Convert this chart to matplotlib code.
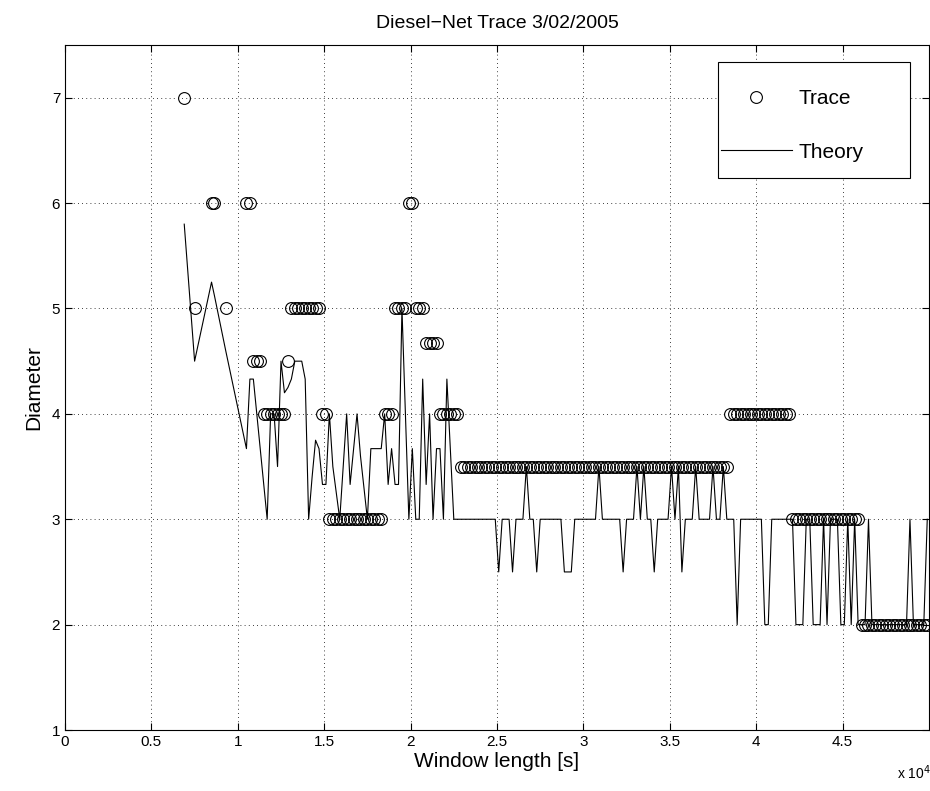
import numpy as np
import matplotlib
matplotlib.use("Agg")
from matplotlib import pyplot as plt
from matplotlib.patches import Rectangle

plt.rcParams['font.family'] = ['Liberation Sans', 'DejaVu Sans']

# Primeros puntos (ventanas cortas, espaciado irregular)
x_early = [6900, 7500, 8480, 8650, 9300]
trace_early = [7, 5, 6, 6, 5]
theory_early = [5.8, 4.5, 5.25, 5.12, 4.6]

# Resto de ventanas: cada 200 s desde 10500 s
x_grid = np.arange(10500, 50000, 200)

trace_grid = [
    6, 6, 4.5, 4.5, 4.5, 4, 4, 4, 4, 4,
    4, 4, 4.5, 5, 5, 5, 5, 5, 5, 5,
    5, 5, 4, 4, 3, 3, 3, 3, 3, 3,
    3, 3, 3, 3, 3, 3, 3, 3, 3, 3,
    4, 4, 4, 5, 5, 5, 5, 6, 6, 5,
    5, 5, 4.67, 4.67, 4.67, 4.67, 4, 4, 4, 4,
    4, 4, 3.5, 3.5, 3.5, 3.5, 3.5, 3.5, 3.5, 3.5,
    3.5, 3.5, 3.5, 3.5, 3.5, 3.5, 3.5, 3.5, 3.5, 3.5,
    3.5, 3.5, 3.5, 3.5, 3.5, 3.5, 3.5, 3.5, 3.5, 3.5,
    3.5, 3.5, 3.5, 3.5, 3.5, 3.5, 3.5, 3.5, 3.5, 3.5,
    3.5, 3.5, 3.5, 3.5, 3.5, 3.5, 3.5, 3.5, 3.5, 3.5,
    3.5, 3.5, 3.5, 3.5, 3.5, 3.5, 3.5, 3.5, 3.5, 3.5,
    3.5, 3.5, 3.5, 3.5, 3.5, 3.5, 3.5, 3.5, 3.5, 3.5,
    3.5, 3.5, 3.5, 3.5, 3.5, 3.5, 3.5, 3.5, 3.5, 3.5,
    4, 4, 4, 4, 4, 4, 4, 4, 4, 4,
    4, 4, 4, 4, 4, 4, 4, 4, 3, 3,
    3, 3, 3, 3, 3, 3, 3, 3, 3, 3,
    3, 3, 3, 3, 3, 3, 3, 3, 2, 2,
    2, 2, 2, 2, 2, 2, 2, 2, 2, 2,
    2, 2, 2, 2, 2, 2, 2, 2,
]

theory_grid = [
    3.67, 4.33, 4.33, 4.0, 3.67, 3.33, 3.0, 4.0, 4.0, 3.5,
    4.5, 4.2, 4.25, 4.33, 4.5, 4.5, 4.5, 4.33, 3.0, 3.4,
    3.75, 3.67, 3.33, 3.33, 4.0, 3.5, 3.25, 3.0, 3.5, 4.0,
    3.33, 3.67, 4.0, 3.6, 3.3, 3.0, 3.67, 3.67, 3.67, 3.67,
    4.0, 3.33, 3.67, 3.33, 3.33, 5.0, 4.0, 3.0, 3.67, 3.0,
    3.0, 4.33, 3.33, 4.0, 3.0, 3.67, 3.67, 3.0, 4.33, 3.67,
    3, 3, 3, 3, 3, 3, 3, 3, 3, 3,
    3, 3, 3, 2.5, 3, 3, 3, 2.5, 3, 3,
    3, 3.5, 3, 3, 2.5, 3, 3, 3, 3, 3,
    3, 3, 2.5, 2.5, 2.5, 3, 3, 3, 3, 3,
    3, 3, 3.5, 3, 3, 3, 3, 3, 3, 2.5,
    3, 3, 3, 3.5, 3, 3.5, 3, 3, 2.5, 3,
    3, 3, 3, 3.5, 3, 3.5, 2.5, 3, 3, 3,
    3.5, 3, 3, 3, 3, 3.5, 3, 3, 3.5, 3,
    3, 3, 2, 3, 3, 3, 3, 3, 3, 3,
    2, 2, 3, 3, 3, 3, 3, 3, 3, 2,
    2, 2, 3, 3, 2, 2, 2, 3, 2, 3,
    3, 3, 2, 2, 3, 2, 3, 2, 2, 2,
    3, 2, 2, 2, 2, 2, 2, 2, 2, 2,
    2, 2, 3, 2, 2, 2, 2, 3,
]

window = np.concatenate([x_early, x_grid])
trace = np.concatenate([trace_early, trace_grid])
theory = np.concatenate([theory_early, theory_grid])

fig = plt.figure(figsize=(9.3, 7.91), dpi=100)
ax = fig.add_axes([0.0699, 0.0771, 0.929, 0.866])

ax.plot(window, trace, 'o', mfc='none', mec='black', ms=8.5, mew=0.8, label='Trace')
ax.plot(window, theory, '-', color='black', lw=0.8, label='Theory')

ax.set_xlim(0, 50000)
ax.set_ylim(1, 7.5)
ax.set_xticks(np.arange(0, 50000, 5000))
ax.set_xticklabels(['0', '0.5', '1', '1.5', '2', '2.5', '3', '3.5', '4', '4.5'])
ax.set_yticks(range(1, 8))

ax.grid(True, linestyle=(0, (1, 4)), color='black', linewidth=0.6)
ax.tick_params(direction='in', top=True, right=True, labelsize=11, length=5)

ax.set_title('Diesel\u2212Net Trace 3/02/2005', fontsize=14, pad=12)
ax.set_xlabel('Window length [s]', fontsize=15, labelpad=2)
ax.set_ylabel('Diameter', fontsize=15, labelpad=6)
fig.text(0.965, 0.015, r'x 10$^4$', fontsize=10)

# Caja de la leyenda al estilo MATLAB
ax.add_patch(Rectangle((0.756, 0.806), 0.222, 0.169, transform=ax.transAxes,
                       facecolor='white', edgecolor='black', lw=0.8, zorder=5))
leg = ax.legend(loc='center', bbox_to_anchor=(0.842, 0.8825), fontsize=15,
                frameon=False, borderpad=0, labelspacing=1.65,
                handlelength=3.4, handletextpad=0.35)
leg.set_zorder(6)

plt.savefig('out.png', dpi=100)
